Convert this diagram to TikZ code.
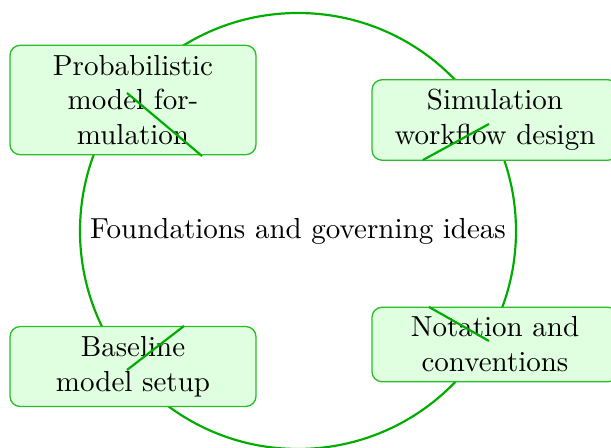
\documentclass[tikz,border=0pt]{standalone}
\usepackage{tikz}
\definecolor{ringgreen}{RGB}{0,172,0}
\definecolor{boxfill}{RGB}{224,255,224}
\definecolor{boxline}{RGB}{40,190,40}
\tikzset{
  topic/.style={draw=boxline, line width=0.45pt, fill=boxfill, rounded corners=3.5pt,
    minimum width=246*0.3448pt, text width=246*0.3448pt-6.67pt, align=center, inner sep=3.33pt, font=\normalsize},
  ring/.style={draw=ringgreen, line width=0.75pt},
  spoke/.style={draw=ringgreen, line width=0.75pt}
}
\begin{document}
\begin{tikzpicture}[x=0.3448pt, y=-0.3448pt]
\useasboundingbox (0,0) rectangle (611,448);
\node[inner sep=0pt] (c) at (298,231) {Foundations and governing ideas};
\draw[ring] (c.center) circle[radius=218];
\node[topic] (b1) at (133,100) {Probabilistic model formulation};
\node[topic] (b2) at (495,120) {Simulation workflow design};
\node[topic] (b3) at (133,366.5) {Baseline model setup};
\node[topic] (b4) at (495,344.5) {Notation and conventions};
\coordinate (s1) at (127,93);  \coordinate (e1) at (202,156);
\coordinate (s2) at (489,124); \coordinate (e2) at (423,160);
\coordinate (s3) at (127,370); \coordinate (e3) at (184,326);
\coordinate (s4) at (489,341); \coordinate (e4) at (429,307);
\draw[spoke] (s1) -- (e1);
\draw[spoke] (s2) -- (e2);
\draw[spoke] (s3) -- (e3);
\draw[spoke] (s4) -- (e4);
\end{tikzpicture}
\end{document}
